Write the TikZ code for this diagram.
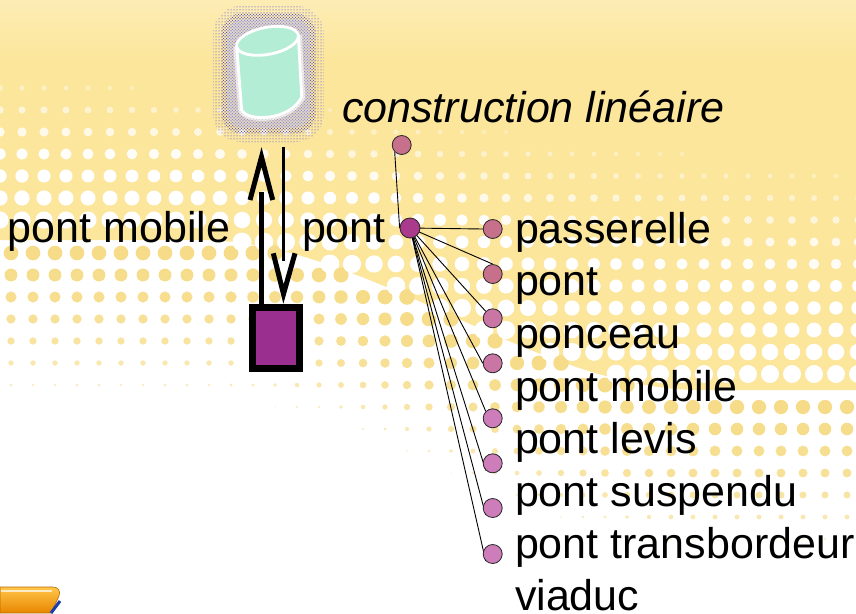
\documentclass[tikz,border=0pt]{standalone}
\usepackage{fontspec}
\setmainfont{Liberation Sans}
\usetikzlibrary{calc,patterns}
\pgfdeclarelayer{bg}
\pgfdeclarelayer{edges}
\pgfsetlayers{bg,edges,main}
\definecolor{bgyellow}{HTML}{FCE69C}
\definecolor{bgtop}{HTML}{FDEDB4}
\definecolor{dotyellow}{HTML}{F6DC88}
\definecolor{mint}{HTML}{B4EDD5}
\definecolor{rectfill}{HTML}{9B2F8F}
\definecolor{pontfill}{HTML}{AA3A8C}
\definecolor{rose}{HTML}{C6708C}
\definecolor{rosepink}{HTML}{CA76A4}
\definecolor{pink}{HTML}{CD7DBA}
\definecolor{halo2}{HTML}{C4C4E4}
\definecolor{orangeA}{HTML}{FFC64A}
\definecolor{orangeB}{HTML}{E88600}
\definecolor{iconblue}{HTML}{1A3FA8}
\tikzset{
  dotnode/.style={circle, draw=black!85, line width=0.8pt, minimum size=19pt, inner sep=0pt},
  edge/.style={draw=black, line width=0.9pt},
  label/.style={anchor=base west, inner sep=0pt, outer sep=0pt},
  thickline/.style={draw=black, line width=5pt},
  thinline/.style={draw=black, line width=2.7pt},
  headline/.style={draw=black, line width=5pt, line join=miter, miter limit=10},
  rectbox/.style={draw=black, line width=6.7pt, fill=rectfill, minimum width=47.3pt, minimum height=61.3pt, inner sep=0pt}
}
\begin{document}
\begin{tikzpicture}[x=1pt,y=-1pt, font=\fontsize{43}{50}\selectfont,
  declare function={tsm(\x)=max(0,min(1,(\x-200)/500)); ysw(\x)=240+150*(3*tsm(\x)^2-2*tsm(\x)^3);}]
\useasboundingbox (0,0) rectangle (856,613);

% background: halftone from yellow to white
\begin{pgfonlayer}{bg}
  \fill[white] (0,0) rectangle (856,613);
  \fill[bgyellow] (0,0) -- plot[domain=0:856, samples=60] (\x,{ysw(\x)}) -- (856,0) -- cycle;
  \shade[top color=bgtop, bottom color=bgyellow] (0,0) rectangle (856,60);
  \foreach \i in {0,...,39}{%
    \foreach \j in {0,...,28}{%
      \pgfmathsetmacro\xx{\i*22}%
      \pgfmathsetmacro\yy{\j*22}%
      \pgfmathsetmacro\yst{ysw(\xx)}%
      \pgfmathsetmacro\yo{min(\yst-90,70+0.12*\xx)}%
      \pgfmathsetmacro\uu{(\yy-\yo)/(\yst-\yo)}%
      \ifdim\yy pt<\yst pt \ifdim\uu pt>0pt
        \pgfmathsetmacro\rr{2+7.5*\uu}%
        \pgfmathsetmacro\op{min(1,0.3+1.4*\uu)}%
        \fill[white, opacity=\op] (\xx,\yy) circle[radius=\rr pt];
      \fi\fi
      \pgfmathsetmacro\xb{\xx+11}%
      \pgfmathsetmacro\yb{\yy+11}%
      \pgfmathsetmacro\ysb{ysw(\xb)}%
      \pgfmathsetmacro\vv{(\yb-\ysb)/165}%
      \ifdim\vv pt>0pt \ifdim\vv pt<1pt
        \pgfmathsetmacro\rb{7.8*(1-\vv)^0.8}%
        \pgfmathsetmacro\pc{100-55*\vv*\vv}%
        \fill[dotyellow!\pc!white] (\xb,\yb) circle[radius=\rb pt];
      \fi\fi
    }%
  }
\end{pgfonlayer}

% halo of the cylinder
\fill[pattern=dots, pattern color=blue!85, rounded corners=28pt] (213,6) rectangle (324,142);
\fill[pattern=crosshatch dots, pattern color=blue!55!gray, rounded corners=22pt] (221,13) rectangle (316,134);
\fill[halo2, opacity=0.5, rounded corners=16pt] (227,19) rectangle (310,128);

% cylinder
\draw[white, line width=7pt, opacity=0.6, line join=round]
  (236.7,46.7) -- (241.7,110) .. controls (247,122) and (290,121) .. (301.7,97) -- (298.3,35);
\filldraw[fill=mint, draw=white, line width=2.8pt, line join=round]
  (236.7,46.7) -- (241.7,110) .. controls (247,122) and (290,121) .. (301.7,97) -- (298.3,35) -- cycle;
\filldraw[fill=mint, draw=white, line width=2.8pt, shift={(267.5,40.85)}, rotate=10.75]
  (0,0) ellipse [x radius=31.35pt, y radius=13.5pt];
\node[minimum width=107pt, minimum height=139.7pt, inner sep=0pt, outer sep=0pt] (cyl) at (268.5,76.85) {};

% rectangle
\node[rectbox] (rect) at (276,338) {};

% arrows between cylinder and rectangle
\draw[thickline] ($(rect.north)+(-15,0)$) -- ($(cyl.south -| rect.north)+(-15,45)$);
\draw[headline] ($(cyl.south -| rect.north)+(-26,53.3)$) -- ($(cyl.south -| rect.north)+(-14.5,10.3)$) -- ($(cyl.south -| rect.north)+(-3.3,53.3)$);
\draw[thinline] ($(cyl.south -| rect.north)+(7.5,0)$) -- ($(rect.north)+(7.5,-42.7)$);
\draw[headline] ($(rect.north)+(-2.7,-50.7)$) -- ($(rect.north)+(7.5,-10)$) -- ($(rect.north)+(19,-50.7)$);

% labels of arrows
\node[label] (lpm) at (8,242) {pont mobile};
\node[label] (lp) at (302,242) {pont};

% tree
\node[label, font=\fontsize{43}{50}\selectfont\itshape] (lcl) at (342,122) {construction linéaire};
\node[dotnode, fill=rose] (ctop) at (401.7,145) {};
\node[dotnode, fill=pontfill, minimum size=20pt] (pont) at (410,228) {};
\node[dotnode, fill=rose] (c1) at (492.7,229) {};
\node[dotnode, fill=rose] (c2) at (492.7,274) {};
\node[dotnode, fill=rosepink] (c3) at (492.7,318.3) {};
\node[dotnode, fill=rosepink] (c4) at (492.7,363.3) {};
\node[dotnode, fill=pink] (c5) at (492.7,418.3) {};
\node[dotnode, fill=pink] (c6) at (492.7,463.3) {};
\node[dotnode, fill=pink] (c7) at (492.7,508) {};
\node[dotnode, fill=pink] (c8) at (492.7,554) {};

\node[label] (t1) at (515,243) {passerelle};
\node[label] (t2) at (515,295.5) {pont};
\node[label] (t3) at (515,348) {ponceau};
\node[label] (t4) at (515,401) {pont mobile};
\node[label] (t5) at (515,453) {pont levis};
\node[label] (t6) at (515,506) {pont suspendu};
\node[label] (t7) at (515,558) {pont transbordeur};
\node[label] (t8) at (515,610) {viaduc};

\begin{pgfonlayer}{edges}
  \draw[edge] (ctop.south west) -- (pont.west);
  \draw[edge] (pont.center) -- (c1.west);
  \draw[edge] (pont.center) -- (c2.north);
  \draw[edge] (pont.center) -- (c3.north west);
  \draw[edge] (pont.center) -- (c4.west);
  \draw[edge] (pont.center) -- (c5.north west);
  \draw[edge] (pont.center) -- (c6.south west);
  \draw[edge] (pont.center) -- (c7.south west);
  \draw[edge] (pont.center) -- (c8.south west);
\end{pgfonlayer}

% orange icon at the bottom left
\shade[top color=orangeA, bottom color=orangeB, draw=orangeB!80!black, line width=0.6pt]
  (0,587) -- (53,587) .. controls (58,587) and (61,591) .. (59,596) -- (51,613) -- (0,613) -- cycle;
\draw[white, opacity=0.7, line width=1.6pt] (1,591) -- (52,591);
\draw[iconblue, line width=3pt] (51,613) -- (60,601);
\end{tikzpicture}
\end{document}
